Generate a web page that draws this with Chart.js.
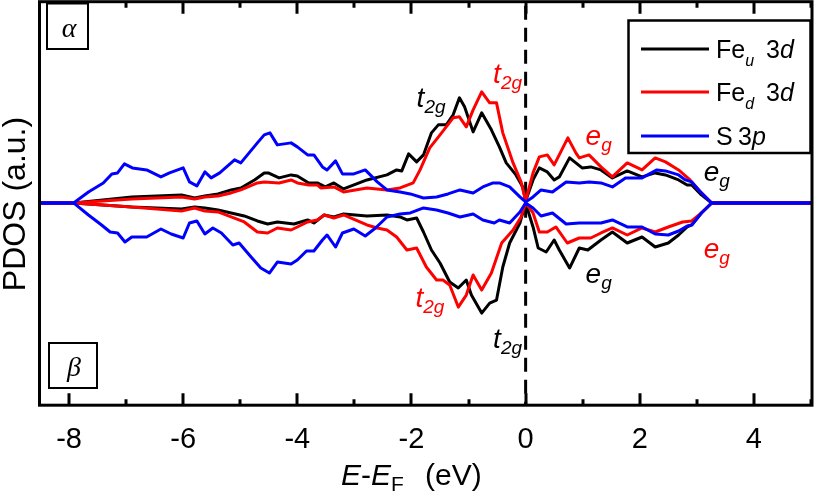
<!DOCTYPE html>
<html>
<head>
<meta charset="utf-8">
<script src="https://cdn.jsdelivr.net/npm/chart.js@4.4.1/dist/chart.umd.min.js"></script>
<style>
  html, body { margin: 0; padding: 0; background: #ffffff; }
  #wrap { width: 814px; height: 498px; }
</style>
</head>
<body>
<div id="wrap"><canvas id="c" width="814" height="498"></canvas></div>
<script>
// ---------- data (energy in eV, PDOS in a.u.; alpha = positive, beta = negative) ----------
const xTickValues = [-8, -6, -4, -2, 0, 2, 4];

const feUAlphaE = [-8.5, -7.92, -6.90, -6.03, -5.80, -5.62, -5.39, -5.16, -4.99, -4.75, -4.58, -4.51, -4.32, -4.11, -4.00, -3.80, -3.65, -3.51, -3.36, -3.19, -2.78, -2.43, -2.26, -2.17, -2.05, -1.91, -1.79, -1.65, -1.53, -1.39, -1.27, -1.16, -1.07, -0.92, -0.77, -0.60, -0.46, -0.34, -0.17, -0.05, 0.00, 0.13, 0.24, 0.38, 0.50, 0.59, 0.77, 0.99, 1.14, 1.32, 1.52, 1.78, 2.04, 2.27, 2.45, 2.68, 2.83, 2.91, 3.08, 3.26, 5.0];
const feUAlphaV = [0, 0, 0.06, 0.08, 0.05, 0.07, 0.09, 0.13, 0.15, 0.23, 0.30, 0.30, 0.25, 0.28, 0.27, 0.20, 0.20, 0.16, 0.20, 0.14, 0.23, 0.28, 0.33, 0.32, 0.49, 0.41, 0.48, 0.70, 0.78, 0.78, 0.88, 1.05, 0.96, 0.71, 0.90, 0.73, 0.56, 0.40, 0.28, 0.16, 0.02, 0.23, 0.35, 0.31, 0.23, 0.26, 0.45, 0.35, 0.36, 0.33, 0.25, 0.32, 0.26, 0.30, 0.28, 0.23, 0.18, 0.18, 0.08, 0, 0];

const feDAlphaE = [-8.5, -7.92, -6.90, -6.03, -5.80, -5.62, -5.39, -5.16, -4.99, -4.70, -4.58, -4.32, -4.11, -4.00, -3.80, -3.65, -3.59, -3.36, -3.19, -2.78, -2.43, -2.20, -1.97, -1.85, -1.68, -1.50, -1.27, -1.16, -1.04, -0.92, -0.77, -0.63, -0.51, -0.40, -0.22, -0.08, 0.00, 0.13, 0.24, 0.38, 0.50, 0.74, 0.88, 0.94, 1.11, 1.32, 1.52, 1.78, 2.04, 2.27, 2.45, 2.68, 2.88, 3.08, 3.26, 5.0];
const feDAlphaV = [0, 0, 0.04, 0.06, 0.04, 0.06, 0.07, 0.10, 0.13, 0.20, 0.21, 0.20, 0.23, 0.20, 0.18, 0.18, 0.15, 0.16, 0.11, 0.15, 0.13, 0.15, 0.20, 0.33, 0.55, 0.68, 0.85, 0.86, 0.76, 0.93, 1.11, 1.00, 1.00, 0.70, 0.40, 0.21, 0.02, 0.30, 0.46, 0.48, 0.38, 0.65, 0.50, 0.45, 0.48, 0.36, 0.26, 0.40, 0.33, 0.45, 0.41, 0.33, 0.23, 0.10, 0, 0];

const s3pAlphaE = [-8.5, -7.92, -7.66, -7.40, -7.25, -7.15, -7.03, -6.89, -6.64, -6.39, -6.24, -6.00, -5.89, -5.76, -5.62, -5.51, -5.36, -5.10, -4.99, -4.70, -4.58, -4.48, -4.35, -4.11, -4.00, -3.82, -3.71, -3.56, -3.48, -3.33, -3.21, -3.01, -2.81, -2.60, -2.43, -2.20, -2.02, -1.79, -1.56, -1.36, -1.15, -0.92, -0.75, -0.57, -0.46, -0.28, -0.10, 0.00, 0.13, 0.27, 0.47, 0.71, 0.94, 1.11, 1.32, 1.52, 1.75, 2.04, 2.30, 2.45, 2.68, 2.80, 2.91, 3.08, 3.26, 5.0];
const s3pAlphaV = [0, 0, 0.11, 0.20, 0.29, 0.30, 0.39, 0.35, 0.33, 0.26, 0.30, 0.35, 0.21, 0.17, 0.31, 0.25, 0.30, 0.43, 0.40, 0.60, 0.68, 0.70, 0.58, 0.60, 0.56, 0.48, 0.48, 0.36, 0.33, 0.42, 0.29, 0.29, 0.33, 0.21, 0.13, 0.11, 0.09, 0.05, 0.06, 0.09, 0.13, 0.10, 0.16, 0.20, 0.20, 0.16, 0.06, 0.01, 0.06, 0.13, 0.11, 0.21, 0.20, 0.21, 0.20, 0.16, 0.25, 0.25, 0.33, 0.32, 0.28, 0.23, 0.21, 0.10, 0, 0];

const feUBetaE = [-8.5, -7.92, -6.90, -6.03, -5.80, -5.62, -5.39, -5.16, -4.93, -4.70, -4.52, -4.35, -4.06, -3.82, -3.71, -3.53, -3.36, -3.19, -2.78, -2.43, -2.20, -2.08, -1.91, -1.79, -1.65, -1.50, -1.33, -1.18, -1.04, -0.95, -0.77, -0.63, -0.51, -0.40, -0.28, -0.10, 0.00, 0.13, 0.22, 0.36, 0.50, 0.59, 0.77, 0.94, 1.09, 1.32, 1.52, 1.78, 2.04, 2.27, 2.50, 2.68, 2.83, 2.91, 3.08, 3.26, 5.0];
const feUBetaV = [0, 0, -0.04, -0.06, -0.04, -0.05, -0.07, -0.10, -0.13, -0.18, -0.21, -0.19, -0.21, -0.17, -0.20, -0.12, -0.14, -0.11, -0.13, -0.12, -0.14, -0.17, -0.15, -0.29, -0.47, -0.60, -0.79, -0.85, -0.77, -0.92, -1.10, -1.00, -0.97, -0.64, -0.40, -0.20, 0, -0.24, -0.45, -0.49, -0.37, -0.47, -0.65, -0.45, -0.47, -0.37, -0.29, -0.40, -0.34, -0.44, -0.40, -0.32, -0.24, -0.22, -0.10, 0, 0];

const feDBetaE = [-8.5, -7.92, -6.90, -6.03, -5.80, -5.62, -5.39, -5.16, -4.93, -4.70, -4.52, -4.35, -4.11, -4.00, -3.82, -3.65, -3.53, -3.36, -3.19, -2.78, -2.60, -2.43, -2.26, -2.08, -1.91, -1.74, -1.56, -1.45, -1.33, -1.18, -1.04, -0.92, -0.77, -0.60, -0.42, -0.22, -0.08, 0.00, 0.13, 0.24, 0.38, 0.53, 0.73, 0.94, 1.14, 1.32, 1.52, 1.78, 2.04, 2.27, 2.50, 2.75, 2.91, 3.08, 3.26, 5.0];
const feDBetaV = [0, 0, -0.04, -0.08, -0.05, -0.08, -0.09, -0.14, -0.19, -0.29, -0.30, -0.25, -0.27, -0.24, -0.19, -0.17, -0.12, -0.15, -0.12, -0.22, -0.25, -0.27, -0.34, -0.47, -0.45, -0.64, -0.77, -0.77, -0.82, -1.04, -0.92, -0.72, -0.87, -0.70, -0.40, -0.27, -0.14, 0, -0.10, -0.29, -0.29, -0.24, -0.40, -0.35, -0.35, -0.30, -0.25, -0.32, -0.25, -0.29, -0.24, -0.19, -0.18, -0.10, 0, 0];

const s3pBetaE = [-8.5, -7.92, -7.66, -7.43, -7.28, -7.15, -7.02, -6.90, -6.64, -6.39, -6.21, -6.00, -5.89, -5.76, -5.62, -5.48, -5.33, -5.13, -5.02, -4.81, -4.64, -4.49, -4.35, -4.11, -4.00, -3.84, -3.71, -3.56, -3.48, -3.33, -3.21, -3.01, -2.81, -2.63, -2.43, -2.20, -2.02, -1.79, -1.56, -1.36, -1.15, -0.92, -0.75, -0.55, -0.46, -0.28, -0.10, 0.00, 0.13, 0.27, 0.47, 0.71, 0.94, 1.14, 1.32, 1.52, 1.78, 2.04, 2.27, 2.50, 2.68, 2.83, 2.91, 3.08, 3.26, 5.0];
const s3pBetaV = [0, 0, -0.12, -0.22, -0.29, -0.30, -0.39, -0.34, -0.34, -0.26, -0.31, -0.35, -0.20, -0.18, -0.31, -0.25, -0.30, -0.42, -0.40, -0.54, -0.65, -0.70, -0.59, -0.61, -0.57, -0.48, -0.48, -0.37, -0.32, -0.44, -0.30, -0.26, -0.33, -0.25, -0.14, -0.11, -0.10, -0.05, -0.07, -0.10, -0.14, -0.11, -0.17, -0.20, -0.17, -0.20, -0.09, 0, -0.05, -0.13, -0.10, -0.21, -0.20, -0.20, -0.20, -0.17, -0.24, -0.24, -0.31, -0.32, -0.28, -0.23, -0.22, -0.10, 0, 0];

// ---------- helpers ----------
const SANS = '"Liberation Sans", Arial, Helvetica, sans-serif';
const SERIF = '"Liberation Serif", "Times New Roman", serif';
const BLACK = '#000000', RED = '#ff0000', BLUE = '#0000ff';

function pts(xs, ys) { return xs.map((x, i) => ({ x: x, y: ys[i] })); }
function ds(label, xs, ys, color) {
  return { label, data: pts(xs, ys), borderColor: color, backgroundColor: color,
           borderWidth: 3, pointRadius: 0, tension: 0, fill: false,
           borderJoinStyle: 'round', borderCapStyle: 'round' };
}

// rich text: pieces [{t, f, dy, x}] drawn left to right
function rich(ctx, x, y, pieces, color) {
  ctx.fillStyle = color;
  ctx.textAlign = 'left';
  ctx.textBaseline = 'alphabetic';
  let cx = x;
  for (const p of pieces) {
    if (p.x !== undefined) cx = p.x;
    ctx.font = p.f;
    ctx.fillText(p.t, cx, y + (p.dy || 0));
    cx += ctx.measureText(p.t).width + (p.gap || 0);
  }
}

const ANN_MAIN = 'italic 28px ' + SANS;
const ANN_SUB = 'italic 19px ' + SANS;
const annotations = [
  { x: -1.91, y: 0.96, main: 't', sub: '2g', color: BLACK },
  { x: -0.57, y: 1.20, main: 't', sub: '2g', color: RED },
  { x: 1.05, y: 0.58, main: 'e', sub: 'g', color: RED },
  { x: 3.12, y: 0.22, main: 'e', sub: 'g', color: BLACK },
  { x: -1.93, y: -1.04, main: 't', sub: '2g', color: RED },
  { x: -0.57, y: -1.45, main: 't', sub: '2g', color: BLACK },
  { x: 1.05, y: -0.80, main: 'e', sub: 'g', color: BLACK },
  { x: 3.12, y: -0.55, main: 'e', sub: 'g', color: RED }
];

const decor = {
  id: 'decor',
  beforeDatasetsDraw(chart) {
    const { ctx, chartArea: ca, scales } = chart;
    const x0 = scales.x.getPixelForValue(0);
    ctx.save();
    ctx.strokeStyle = BLACK;
    ctx.lineWidth = 3;
    ctx.setLineDash([14, 8]);
    ctx.beginPath();
    ctx.moveTo(x0, ca.top + 4);
    ctx.lineTo(x0, ca.bottom);
    ctx.stroke();
    ctx.restore();
  },
  afterDraw(chart) {
    const { ctx, chartArea: ca, scales } = chart;
    const xs = scales.x, ys = scales.y;
    ctx.save();
    // frame
    ctx.strokeStyle = BLACK;
    ctx.lineWidth = 3;
    ctx.setLineDash([]);
    ctx.strokeRect(ca.left - 1, ca.top, ca.right - ca.left + 2, ca.bottom - ca.top);
    // inward ticks, top and bottom
    for (let v = -8; v <= 5; v++) {
      const px = Math.round(xs.getPixelForValue(v));
      const len = (v % 2 === 0) ? 12 : 6;
      ctx.beginPath();
      ctx.moveTo(px, ca.bottom); ctx.lineTo(px, ca.bottom - len);
      ctx.moveTo(px, ca.top); ctx.lineTo(px, ca.top + len);
      ctx.stroke();
    }
    // panel labels alpha / beta
    ctx.lineWidth = 2;
    ctx.fillStyle = '#fff';
    ctx.fillRect(47, 4, 41, 45);
    ctx.strokeRect(47, 3.5, 41, 45.5);
    ctx.fillRect(49, 343, 48, 45);
    ctx.strokeRect(49, 343, 48, 45);
    ctx.fillStyle = BLACK;
    ctx.textAlign = 'center';
    ctx.textBaseline = 'alphabetic';
    ctx.font = 'italic 28px ' + SERIF;
    ctx.fillText('\u03B1', 69, 37);
    ctx.fillText('\u03B2', 74, 376);

    // legend
    ctx.fillStyle = '#fff';
    ctx.fillRect(628, 20, 182, 133);
    ctx.strokeStyle = BLACK;
    ctx.lineWidth = 2.5;
    ctx.strokeRect(628.5, 20.5, 182, 132.5);
    const LF = '25px ' + SANS, LFI = 'italic 25px ' + SANS, LFS = 'italic 16px ' + SANS;
    const rows = [
      { y: 49, color: BLACK, pieces: [{ t: 'Fe', f: LF }, { t: 'u', f: LFS, dy: 8 }, { t: '3', f: LF, x: 766 }, { t: 'd', f: LFI }] },
      { y: 92, color: RED, pieces: [{ t: 'Fe', f: LF }, { t: 'd', f: LFS, dy: 8 }, { t: '3', f: LF, x: 766 }, { t: 'd', f: LFI }] },
      { y: 136, color: BLUE, pieces: [{ t: 'S', f: LF }, { t: '3', f: LF, x: 738 }, { t: 'p', f: LFI }] }
    ];
    for (const r of rows) {
      ctx.strokeStyle = r.color;
      ctx.lineWidth = 3;
      ctx.beginPath();
      ctx.moveTo(641, r.y); ctx.lineTo(709, r.y);
      ctx.stroke();
      rich(ctx, 716, r.y + 9, r.pieces, BLACK);
    }

    // orbital annotations
    for (const a of annotations) {
      const px = xs.getPixelForValue(a.x), py = ys.getPixelForValue(a.y);
      rich(ctx, px, py, [{ t: a.main, f: ANN_MAIN }, { t: a.sub, f: ANN_SUB, dy: 6 }], a.color);
    }

    // axis titles
    rich(ctx, 341, 485, [
      { t: 'E', f: 'italic 30px ' + SANS },
      { t: '-', f: '30px ' + SANS },
      { t: 'E', f: 'italic 30px ' + SANS },
      { t: 'F', f: '21px ' + SANS, dy: 6 },
      { t: '(eV)', f: '30px ' + SANS, x: 425 }
    ], BLACK);
    ctx.save();
    ctx.translate(25, 204);
    ctx.rotate(-Math.PI / 2);
    ctx.fillStyle = BLACK;
    ctx.font = '32px ' + SANS;
    ctx.textAlign = 'center';
    ctx.textBaseline = 'alphabetic';
    ctx.fillText('PDOS (a.u.)', 0, 0);
    ctx.restore();
    ctx.restore();
  }
};

new Chart(document.getElementById('c'), {
  type: 'line',
  data: {
    datasets: [
      ds('S 3p (alpha)', s3pAlphaE, s3pAlphaV, BLUE),
      ds('S 3p (beta)', s3pBetaE, s3pBetaV, BLUE),
      ds('Fe_d 3d (alpha)', feDAlphaE, feDAlphaV, RED),
      ds('Fe_d 3d (beta)', feDBetaE, feDBetaV, RED),
      ds('Fe_u 3d (alpha)', feUAlphaE, feUAlphaV, BLACK),
      ds('Fe_u 3d (beta)', feUBetaE, feUBetaV, BLACK)
    ]
  },
  options: {
    responsive: false,
    animation: false,
    devicePixelRatio: 1,
    layout: { padding: { left: 40.5, right: 3, top: 1.7, bottom: 24 } },
    plugins: { legend: { display: false }, tooltip: { enabled: false } },
    scales: {
      x: {
        type: 'linear', min: -8.5, max: 5,
        afterBuildTicks: (s) => { s.ticks = xTickValues.map(v => ({ value: v })); },
        grid: { display: false, drawTicks: false },
        border: { display: false },
        ticks: { font: { size: 29, family: SANS }, color: BLACK, padding: 17, maxRotation: 0, autoSkip: false }
      },
      y: { type: 'linear', min: -2.02, max: 2.01, display: false }
    }
  },
  plugins: [decor]
});
</script>
</body>
</html>
